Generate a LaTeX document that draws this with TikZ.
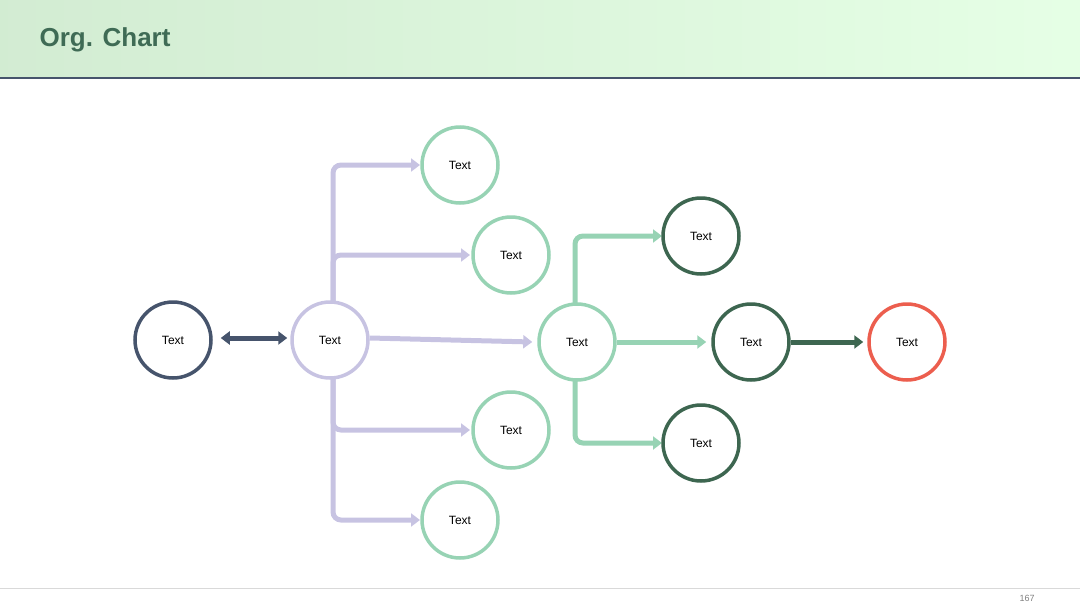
\documentclass[tikz,border=0pt]{standalone}
\usepackage{fontspec}
\setmainfont{Liberation Sans}
\usetikzlibrary{arrows.meta}
\definecolor{navy}{HTML}{46546C}
\definecolor{lav}{HTML}{C7C3E2}
\definecolor{lgreen}{HTML}{97D3B4}
\definecolor{dgreen}{HTML}{3D6650}
\definecolor{red1}{HTML}{EC5E4E}
\definecolor{title}{HTML}{3F6B55}
\begin{document}
\begin{tikzpicture}[x=1pt,y=-1pt,
  circ/.style={circle,draw=#1,line width=3.5pt,fill=white,minimum size=76pt,inner sep=0pt,font=\fontsize{12}{14}\selectfont},
  conn/.style={draw=#1,line width=5pt,rounded corners=8pt,-{Triangle[length=9pt,width=13pt]}}]
\useasboundingbox (0,0) rectangle (1080,608);
\shade[left color=green!40!gray!25!white,right color=green!10!white] (0,0) rectangle (1080,78);
\draw[navy,line width=1.5pt] (0,78) -- (1080,78);
\node[anchor=west,text=title,font=\bfseries\fontsize{26}{30}\selectfont] (t) at (36,40) {Org. Chart};
\draw[gray!30,line width=0.8pt] (0,588) -- (1080,588);
\node[text=gray,font=\fontsize{9}{10}\selectfont] (pg) at (1027,598) {167};
% connectors
\coordinate (bt) at (333,165); \coordinate (bb) at (333,520);
\draw[conn=lav] (333,342) |- (420,165);
\draw[conn=lav] (333,342) |- (470,255);
\draw[conn=lav] (333,342) |- (470,430);
\draw[conn=lav] (333,342) |- (420,520);
\draw[conn=lgreen] (575,342) |- (662,236);
\draw[conn=lgreen] (575,342) |- (662,443);
\node[circ=navy] (A) at (173,340) {Text};
\node[circ=lav] (B) at (330,340) {Text};
\node[circ=lgreen] (T1) at (460,165) {Text};
\node[circ=lgreen] (T2) at (511,255) {Text};
\node[circ=lgreen] (B1) at (511,430) {Text};
\node[circ=lgreen] (B2) at (460,520) {Text};
\node[circ=lgreen] (C) at (577,342) {Text};
\node[circ=dgreen] (G1) at (701,236) {Text};
\node[circ=dgreen] (G2) at (751,342) {Text};
\node[circ=dgreen] (G3) at (701,443) {Text};
\node[circ=red1] (R) at (907,342) {Text};
\draw[draw=navy,line width=5pt,{Triangle[length=9pt,width=13pt]}-{Triangle[length=9pt,width=13pt]}] ([xshift=8pt,yshift=2pt]A.east) -- ([xshift=-3pt,yshift=2pt]B.west);
\draw[conn=lav] ([yshift=2pt]B.east) -- ([xshift=-5pt]C.west);
\draw[conn=lgreen] (C.east) -- ([xshift=-5pt]G2.west);
\draw[conn=dgreen] (G2.east) -- ([xshift=-4pt]R.west);
\end{tikzpicture}
\end{document}
